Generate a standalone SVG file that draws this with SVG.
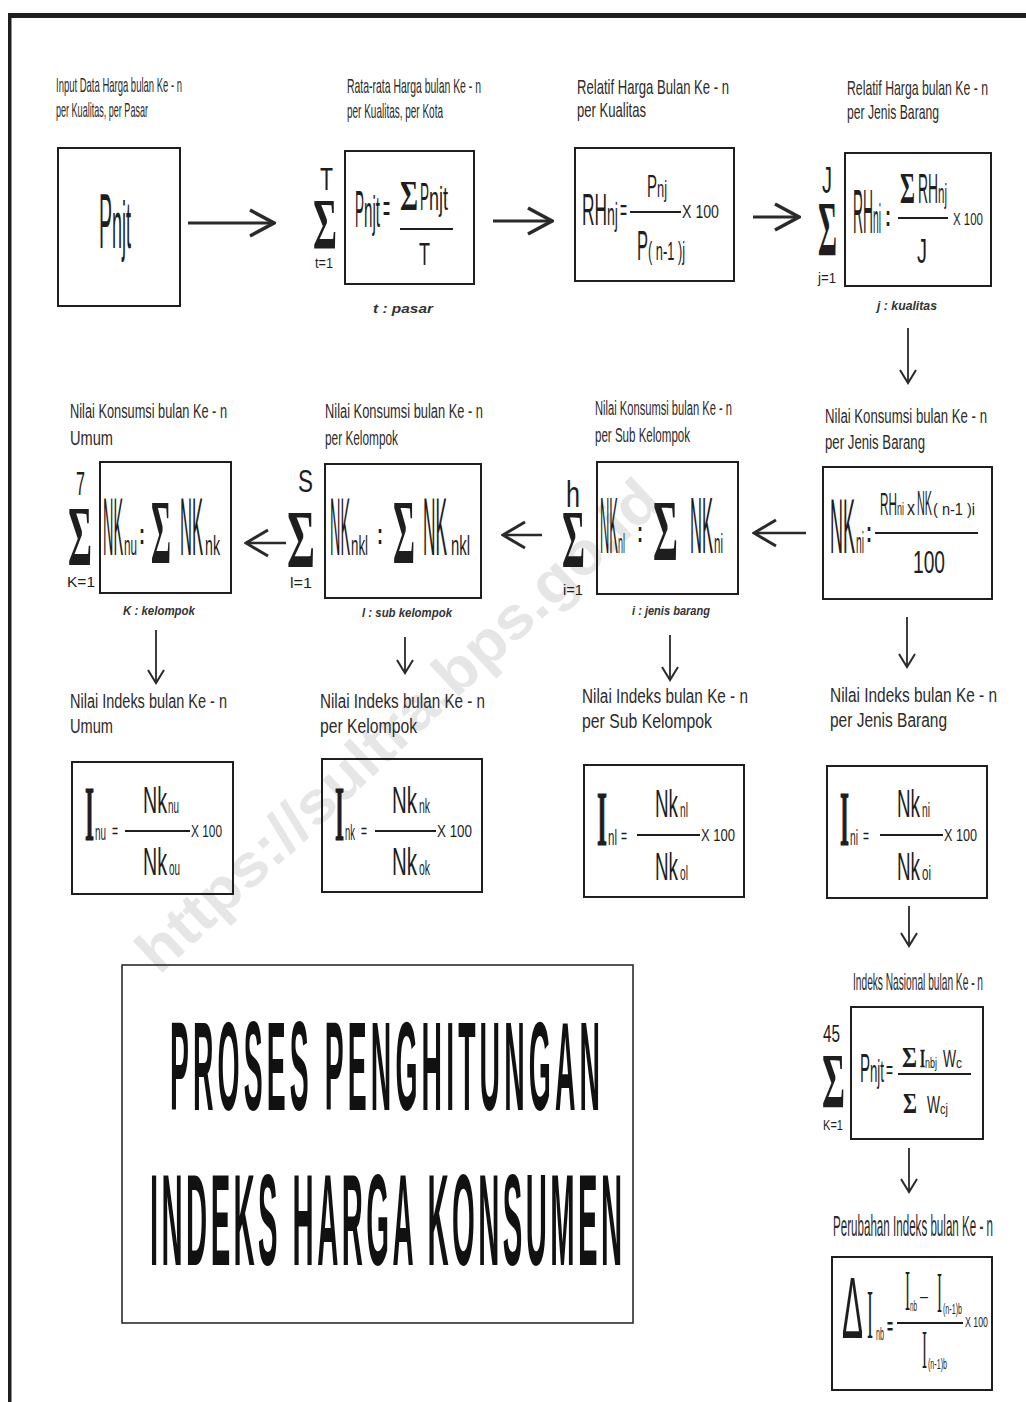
<svg xmlns="http://www.w3.org/2000/svg" width="1026" height="1402" viewBox="0 0 1026 1402">
<style>
.L{font-family:"Liberation Sans",Arial,sans-serif;fill:#2b2b2b}
.F{font-family:"Liberation Sans",Arial,sans-serif;fill:#1e1e1e}
.S{font-family:"Liberation Serif","Times New Roman",serif;font-weight:bold;fill:#1e1e1e}
.SI{font-family:"Liberation Serif","Times New Roman",serif;fill:#1e1e1e}
.SB{font-family:"Liberation Serif","Times New Roman",serif;font-weight:bold;fill:#1e1e1e;stroke:#1e1e1e;stroke-width:1.2}
.C{font-family:"Liberation Sans",Arial,sans-serif;font-style:italic;font-weight:bold;font-size:13px;fill:#333}
.box{fill:none;stroke:#1e1e1e;stroke-width:2}
.fr{stroke:#1e1e1e;stroke-width:2}
.a1{stroke:#2a2a2a;stroke-width:3;fill:none}
.a2{stroke:#2a2a2a;stroke-width:2.5;fill:none}
.a3{stroke:#2a2a2a;stroke-width:1.8;fill:none}
.T{font-family:"Liberation Sans",Arial,sans-serif;font-weight:bold;fill:#111}
</style>
<defs>
<marker id="hb" viewBox="0 0 28 30" markerUnits="userSpaceOnUse" markerWidth="28" markerHeight="30" refX="26" refY="15" orient="auto"><path d="M2,2 L26,15 L2,28" fill="none" stroke="#2a2a2a" stroke-width="3.5"/></marker>
<marker id="hm" viewBox="0 0 26 30" markerUnits="userSpaceOnUse" markerWidth="26" markerHeight="30" refX="24" refY="15" orient="auto"><path d="M2,2 L24,15 L2,28" fill="none" stroke="#2a2a2a" stroke-width="3"/></marker>
<marker id="hs" viewBox="0 0 16 18" markerUnits="userSpaceOnUse" markerWidth="16" markerHeight="18" refX="14" refY="9" orient="auto"><path d="M1,1 L14,9 L1,17" fill="none" stroke="#2a2a2a" stroke-width="2"/></marker>
</defs>
<rect width="1026" height="1402" fill="#fff"/>
<text x="400" y="745" font-family="Liberation Sans, Arial, sans-serif" font-weight="bold" font-size="60" textLength="690" lengthAdjust="spacingAndGlyphs" text-anchor="middle" fill="#e6e6e6" transform="rotate(-43 400 728)">https://sultra.bps.go.id</text>
<g id="frame"><rect x="8" y="13" width="1018" height="5" fill="#1e1e1e"/><rect x="8" y="13" width="3.5" height="1389" fill="#1e1e1e"/></g>

<g id="connectors">
<line class="a1" x1="188" y1="223" x2="274" y2="223" marker-end="url(#hb)"/>
<line class="a1" x1="493" y1="221" x2="552" y2="221" marker-end="url(#hb)"/>
<line class="a1" x1="753" y1="217" x2="799" y2="217" marker-end="url(#hb)"/>
<line class="a3" x1="908" y1="328" x2="908" y2="383" marker-end="url(#hs)"/>
<line class="a2" x1="806" y1="533" x2="754" y2="533" marker-end="url(#hm)"/>
<line class="a2" x1="542" y1="535" x2="503" y2="535" marker-end="url(#hm)"/>
<line class="a2" x1="286" y1="543" x2="246" y2="543" marker-end="url(#hm)"/>
<line class="a3" x1="156" y1="630" x2="156" y2="683" marker-end="url(#hs)"/>
<line class="a3" x1="405" y1="637" x2="405" y2="673" marker-end="url(#hs)"/>
<line class="a3" x1="670" y1="635" x2="670" y2="680" marker-end="url(#hs)"/>
<line class="a3" x1="907" y1="617" x2="907" y2="667" marker-end="url(#hs)"/>
<line class="a3" x1="909" y1="906" x2="909" y2="946" marker-end="url(#hs)"/>
<line class="a3" x1="909" y1="1148" x2="909" y2="1192" marker-end="url(#hs)"/>
</g>

<g id="n1">
<text class="L" x="56" y="92" font-size="21" textLength="126" lengthAdjust="spacingAndGlyphs">Input Data Harga bulan Ke - n</text>
<text class="L" x="56" y="117" font-size="21" textLength="92" lengthAdjust="spacingAndGlyphs">per Kualitas, per Pasar</text>
<rect class="box" x="58" y="148" width="122" height="158"/>
<text class="F" x="99" y="248" font-size="78" textLength="13" lengthAdjust="spacingAndGlyphs">P</text>
<text class="F" x="112" y="248" font-size="66" textLength="19" lengthAdjust="spacingAndGlyphs">njt</text>
</g>

<g id="n2">
<text class="L" x="347" y="93" font-size="21" textLength="134" lengthAdjust="spacingAndGlyphs">Rata-rata Harga bulan Ke - n</text>
<text class="L" x="347" y="118" font-size="21" textLength="96" lengthAdjust="spacingAndGlyphs">per Kualitas, per Kota</text>
<text class="F" x="320" y="190" font-size="32" textLength="13" lengthAdjust="spacingAndGlyphs">T</text>
<text class="S" x="313" y="248" font-size="72" textLength="24" lengthAdjust="spacingAndGlyphs">Σ</text>
<text class="F" x="315" y="268" font-size="15" textLength="18" lengthAdjust="spacingAndGlyphs">t=1</text>
<rect class="box" x="345" y="151" width="129" height="133"/>
<text class="F" x="355" y="227" font-size="52" textLength="9" lengthAdjust="spacingAndGlyphs">P</text>
<text class="F" x="364" y="227" font-size="44" textLength="16" lengthAdjust="spacingAndGlyphs">njt</text>
<text class="F" x="383" y="222" font-size="40" textLength="7" lengthAdjust="spacingAndGlyphs">=</text>
<text class="S" x="400" y="210" font-size="42" textLength="18" lengthAdjust="spacingAndGlyphs">Σ</text>
<text class="F" x="420" y="210" font-size="39" textLength="9" lengthAdjust="spacingAndGlyphs">P</text>
<text class="F" x="429" y="210" font-size="33" textLength="19" lengthAdjust="spacingAndGlyphs">njt</text>
<line class="fr" x1="400" y1="229" x2="453" y2="229"/>
<text class="F" x="419" y="265" font-size="31" textLength="11" lengthAdjust="spacingAndGlyphs">T</text>
<text class="C" x="373" y="313" textLength="60" lengthAdjust="spacingAndGlyphs">t : pasar</text>
</g>

<g id="n3">
<text class="L" x="577" y="94" font-size="21" textLength="152" lengthAdjust="spacingAndGlyphs">Relatif Harga Bulan Ke - n</text>
<text class="L" x="577" y="117" font-size="21" textLength="69" lengthAdjust="spacingAndGlyphs">per Kualitas</text>
<rect class="box" x="575" y="148" width="159" height="133"/>
<text class="F" x="582" y="225" font-size="45" textLength="25" lengthAdjust="spacingAndGlyphs">RH</text>
<text class="F" x="607" y="225" font-size="32" textLength="11" lengthAdjust="spacingAndGlyphs">nj</text>
<text class="F" x="620" y="220" font-size="30" textLength="7" lengthAdjust="spacingAndGlyphs">=</text>
<text class="F" x="647" y="197" font-size="31" textLength="10" lengthAdjust="spacingAndGlyphs">P</text>
<text class="F" x="657" y="197" font-size="24" textLength="10" lengthAdjust="spacingAndGlyphs">nj</text>
<line class="fr" x1="630" y1="212" x2="681" y2="212"/>
<text class="F" x="682" y="218" font-size="18" textLength="37" lengthAdjust="spacingAndGlyphs">X 100</text>
<text class="F" x="637" y="260" font-size="42" textLength="11" lengthAdjust="spacingAndGlyphs">P</text>
<text class="F" x="648" y="260" font-size="26" textLength="37" lengthAdjust="spacingAndGlyphs">( n-1 )j</text>
</g>

<g id="n4">
<text class="L" x="847" y="95" font-size="21" textLength="141" lengthAdjust="spacingAndGlyphs">Relatif Harga bulan Ke - n</text>
<text class="L" x="847" y="119" font-size="21" textLength="92" lengthAdjust="spacingAndGlyphs">per Jenis Barang</text>
<text class="F" x="822" y="193" font-size="36" textLength="10" lengthAdjust="spacingAndGlyphs">J</text>
<text class="S" x="818" y="255" font-size="78" textLength="19" lengthAdjust="spacingAndGlyphs">Σ</text>
<text class="F" x="818" y="283" font-size="15" textLength="18" lengthAdjust="spacingAndGlyphs">j=1</text>
<rect class="box" x="845" y="153" width="146" height="133"/>
<text class="F" x="853" y="233" font-size="63" textLength="20" lengthAdjust="spacingAndGlyphs">RH</text>
<text class="F" x="873" y="233" font-size="40" textLength="8" lengthAdjust="spacingAndGlyphs">ni</text>
<text class="F" x="885" y="226" font-size="30" font-weight="bold" textLength="6" lengthAdjust="spacingAndGlyphs">:</text>
<text class="S" x="900" y="203" font-size="45" textLength="15" lengthAdjust="spacingAndGlyphs">Σ</text>
<text class="F" x="918" y="203" font-size="42" textLength="20" lengthAdjust="spacingAndGlyphs">RH</text>
<text class="F" x="938" y="203" font-size="28" textLength="9" lengthAdjust="spacingAndGlyphs">nj</text>
<line class="fr" x1="898" y1="218" x2="948" y2="218"/>
<text class="F" x="953" y="225" font-size="17" textLength="30" lengthAdjust="spacingAndGlyphs">X 100</text>
<text class="F" x="917" y="263" font-size="35" textLength="10" lengthAdjust="spacingAndGlyphs">J</text>
<text class="C" x="877" y="310" textLength="60" lengthAdjust="spacingAndGlyphs">j : kualitas</text>
</g>

<g id="n5">
<text class="L" x="825" y="423" font-size="20" textLength="162" lengthAdjust="spacingAndGlyphs">Nilai Konsumsi bulan Ke - n</text>
<text class="L" x="825" y="449" font-size="20" textLength="100" lengthAdjust="spacingAndGlyphs">per Jenis Barang</text>
<rect class="box" x="823" y="467" width="169" height="132"/>
<text class="F" x="830" y="553" font-size="78" textLength="25" lengthAdjust="spacingAndGlyphs">NK</text>
<text class="F" x="856" y="553" font-size="30" textLength="8" lengthAdjust="spacingAndGlyphs">ni</text>
<text class="F" x="866" y="542" font-size="30" font-weight="bold" textLength="6" lengthAdjust="spacingAndGlyphs">:</text>
<text class="F" x="880" y="515" font-size="31" textLength="17" lengthAdjust="spacingAndGlyphs">RH</text>
<text class="F" x="897" y="515" font-size="18" textLength="7" lengthAdjust="spacingAndGlyphs">ni</text>
<text class="F" x="907" y="515" font-size="20" textLength="8" lengthAdjust="spacingAndGlyphs">x</text>
<text class="F" x="917" y="515" font-size="35" textLength="15" lengthAdjust="spacingAndGlyphs">NK</text>
<text class="F" x="933" y="515" font-size="16" textLength="42" lengthAdjust="spacingAndGlyphs">( n-1 )i</text>
<line class="fr" x1="875" y1="533" x2="978" y2="533"/>
<text class="F" x="913" y="573" font-size="32" textLength="32" lengthAdjust="spacingAndGlyphs">100</text>
</g>

<g id="n6">
<text class="L" x="595" y="415" font-size="20" textLength="137" lengthAdjust="spacingAndGlyphs">Nilai Konsumsi bulan Ke - n</text>
<text class="L" x="595" y="442" font-size="20" textLength="95" lengthAdjust="spacingAndGlyphs">per Sub Kelompok</text>
<text class="F" x="566" y="507" font-size="37" textLength="14" lengthAdjust="spacingAndGlyphs">h</text>
<text class="S" x="562" y="567" font-size="82" textLength="23" lengthAdjust="spacingAndGlyphs">Σ</text>
<text class="F" x="563" y="595" font-size="15" textLength="20" lengthAdjust="spacingAndGlyphs">i=1</text>
<rect class="box" x="597" y="462" width="141" height="132"/>
<text class="F" x="600" y="553" font-size="80" textLength="18" lengthAdjust="spacingAndGlyphs">NK</text>
<text class="F" x="618" y="553" font-size="28" textLength="7" lengthAdjust="spacingAndGlyphs">nl</text>
<text class="F" x="637" y="542" font-size="30" font-weight="bold" textLength="6" lengthAdjust="spacingAndGlyphs">:</text>
<text class="S" x="653" y="560" font-size="86" textLength="25" lengthAdjust="spacingAndGlyphs">Σ</text>
<text class="F" x="690" y="553" font-size="80" textLength="23" lengthAdjust="spacingAndGlyphs">NK</text>
<text class="F" x="714" y="553" font-size="28" textLength="9" lengthAdjust="spacingAndGlyphs">ni</text>
<text class="C" x="632" y="615" textLength="78" lengthAdjust="spacingAndGlyphs">i : jenis barang</text>
</g>

<g id="n7">
<text class="L" x="325" y="418" font-size="20" textLength="158" lengthAdjust="spacingAndGlyphs">Nilai Konsumsi bulan Ke - n</text>
<text class="L" x="325" y="445" font-size="20" textLength="73" lengthAdjust="spacingAndGlyphs">per Kelompok</text>
<text class="F" x="298" y="492" font-size="31" textLength="15" lengthAdjust="spacingAndGlyphs">S</text>
<text class="S" x="287" y="567" font-size="82" textLength="28" lengthAdjust="spacingAndGlyphs">Σ</text>
<text class="F" x="290" y="588" font-size="15" textLength="22" lengthAdjust="spacingAndGlyphs">l=1</text>
<rect class="box" x="325" y="464" width="156" height="134"/>
<text class="F" x="330" y="555" font-size="82" textLength="20" lengthAdjust="spacingAndGlyphs">NK</text>
<text class="F" x="351" y="555" font-size="28" textLength="17" lengthAdjust="spacingAndGlyphs">nkl</text>
<text class="F" x="377" y="544" font-size="30" font-weight="bold" textLength="6" lengthAdjust="spacingAndGlyphs">:</text>
<text class="S" x="393" y="563" font-size="90" textLength="22" lengthAdjust="spacingAndGlyphs">Σ</text>
<text class="F" x="423" y="555" font-size="82" textLength="24" lengthAdjust="spacingAndGlyphs">NK</text>
<text class="F" x="451" y="555" font-size="28" textLength="19" lengthAdjust="spacingAndGlyphs">nkl</text>
<text class="C" x="362" y="617" textLength="90" lengthAdjust="spacingAndGlyphs">l : sub kelompok</text>
</g>

<g id="n8">
<text class="L" x="70" y="418" font-size="20" textLength="157" lengthAdjust="spacingAndGlyphs">Nilai Konsumsi bulan Ke - n</text>
<text class="L" x="70" y="445" font-size="20" textLength="43" lengthAdjust="spacingAndGlyphs">Umum</text>
<text class="F" x="76" y="495" font-size="34" textLength="9" lengthAdjust="spacingAndGlyphs">7</text>
<text class="S" x="68" y="565" font-size="85" textLength="24" lengthAdjust="spacingAndGlyphs">Σ</text>
<text class="F" x="67" y="587" font-size="15" textLength="28" lengthAdjust="spacingAndGlyphs">K=1</text>
<rect class="box" x="100" y="462" width="131" height="131"/>
<text class="F" x="103" y="555" font-size="82" textLength="20" lengthAdjust="spacingAndGlyphs">NK</text>
<text class="F" x="124" y="555" font-size="28" textLength="13" lengthAdjust="spacingAndGlyphs">nu</text>
<text class="F" x="139" y="544" font-size="30" font-weight="bold" textLength="6" lengthAdjust="spacingAndGlyphs">:</text>
<text class="S" x="151" y="563" font-size="90" textLength="20" lengthAdjust="spacingAndGlyphs">Σ</text>
<text class="F" x="180" y="555" font-size="82" textLength="23" lengthAdjust="spacingAndGlyphs">NK</text>
<text class="F" x="205" y="555" font-size="28" textLength="15" lengthAdjust="spacingAndGlyphs">nk</text>
<text class="C" x="123" y="615" textLength="72" lengthAdjust="spacingAndGlyphs">K : kelompok</text>
</g>

<g id="n9">
<text class="L" x="70" y="708" font-size="20" textLength="157" lengthAdjust="spacingAndGlyphs">Nilai Indeks bulan Ke - n</text>
<text class="L" x="70" y="733" font-size="20" textLength="43" lengthAdjust="spacingAndGlyphs">Umum</text>
<rect class="box" x="72" y="762" width="161" height="132"/>
<text class="SB" x="85" y="840" font-size="78" textLength="9" lengthAdjust="spacingAndGlyphs">I</text>
<text class="F" x="95" y="840" font-size="22" textLength="11" lengthAdjust="spacingAndGlyphs">nu</text>
<text class="F" x="112" y="838" font-size="20" textLength="6" lengthAdjust="spacingAndGlyphs">=</text>
<text class="F" x="143" y="813" font-size="36" textLength="24" lengthAdjust="spacingAndGlyphs">Nk</text>
<text class="F" x="168" y="813" font-size="20" textLength="11" lengthAdjust="spacingAndGlyphs">nu</text>
<line class="fr" x1="125" y1="831" x2="190" y2="831"/>
<text class="F" x="191" y="837" font-size="16" textLength="31" lengthAdjust="spacingAndGlyphs">X 100</text>
<text class="F" x="143" y="875" font-size="38" textLength="24" lengthAdjust="spacingAndGlyphs">Nk</text>
<text class="F" x="169" y="875" font-size="20" textLength="11" lengthAdjust="spacingAndGlyphs">ou</text>
</g>

<g id="n10">
<text class="L" x="320" y="708" font-size="20" textLength="165" lengthAdjust="spacingAndGlyphs">Nilai Indeks bulan Ke - n</text>
<text class="L" x="320" y="733" font-size="20" textLength="97" lengthAdjust="spacingAndGlyphs">per Kelompok</text>
<rect class="box" x="322" y="759" width="160" height="133"/>
<text class="SB" x="335" y="840" font-size="78" textLength="9" lengthAdjust="spacingAndGlyphs">I</text>
<text class="F" x="345" y="840" font-size="22" textLength="10" lengthAdjust="spacingAndGlyphs">nk</text>
<text class="F" x="361" y="838" font-size="20" textLength="6" lengthAdjust="spacingAndGlyphs">=</text>
<text class="F" x="392" y="813" font-size="36" textLength="25" lengthAdjust="spacingAndGlyphs">Nk</text>
<text class="F" x="419" y="813" font-size="20" textLength="11" lengthAdjust="spacingAndGlyphs">nk</text>
<line class="fr" x1="375" y1="831" x2="436" y2="831"/>
<text class="F" x="437" y="837" font-size="16" textLength="35" lengthAdjust="spacingAndGlyphs">X 100</text>
<text class="F" x="392" y="875" font-size="38" textLength="25" lengthAdjust="spacingAndGlyphs">Nk</text>
<text class="F" x="419" y="875" font-size="20" textLength="11" lengthAdjust="spacingAndGlyphs">ok</text>
</g>

<g id="n11">
<text class="L" x="582" y="703" font-size="20" textLength="166" lengthAdjust="spacingAndGlyphs">Nilai Indeks bulan Ke - n</text>
<text class="L" x="582" y="728" font-size="20" textLength="130" lengthAdjust="spacingAndGlyphs">per Sub Kelompok</text>
<rect class="box" x="584" y="765" width="160" height="132"/>
<text class="SB" x="597" y="845" font-size="78" textLength="10" lengthAdjust="spacingAndGlyphs">I</text>
<text class="F" x="608" y="845" font-size="22" textLength="9" lengthAdjust="spacingAndGlyphs">nl</text>
<text class="F" x="621" y="843" font-size="20" textLength="6" lengthAdjust="spacingAndGlyphs">=</text>
<text class="F" x="655" y="817" font-size="38" textLength="23" lengthAdjust="spacingAndGlyphs">Nk</text>
<text class="F" x="680" y="817" font-size="20" textLength="8" lengthAdjust="spacingAndGlyphs">nl</text>
<line class="fr" x1="637" y1="835" x2="700" y2="835"/>
<text class="F" x="701" y="841" font-size="16" textLength="34" lengthAdjust="spacingAndGlyphs">X 100</text>
<text class="F" x="655" y="880" font-size="38" textLength="23" lengthAdjust="spacingAndGlyphs">Nk</text>
<text class="F" x="680" y="880" font-size="20" textLength="8" lengthAdjust="spacingAndGlyphs">ol</text>
</g>

<g id="n12">
<text class="L" x="830" y="702" font-size="20" textLength="167" lengthAdjust="spacingAndGlyphs">Nilai Indeks bulan Ke - n</text>
<text class="L" x="830" y="727" font-size="20" textLength="117" lengthAdjust="spacingAndGlyphs">per Jenis Barang</text>
<rect class="box" x="827" y="766" width="160" height="132"/>
<text class="SB" x="840" y="845" font-size="78" textLength="9" lengthAdjust="spacingAndGlyphs">I</text>
<text class="F" x="850" y="845" font-size="22" textLength="8" lengthAdjust="spacingAndGlyphs">ni</text>
<text class="F" x="863" y="843" font-size="20" textLength="6" lengthAdjust="spacingAndGlyphs">=</text>
<text class="F" x="897" y="817" font-size="38" textLength="23" lengthAdjust="spacingAndGlyphs">Nk</text>
<text class="F" x="922" y="817" font-size="20" textLength="8" lengthAdjust="spacingAndGlyphs">ni</text>
<line class="fr" x1="880" y1="835" x2="943" y2="835"/>
<text class="F" x="944" y="841" font-size="16" textLength="33" lengthAdjust="spacingAndGlyphs">X 100</text>
<text class="F" x="897" y="880" font-size="38" textLength="23" lengthAdjust="spacingAndGlyphs">Nk</text>
<text class="F" x="922" y="880" font-size="20" textLength="9" lengthAdjust="spacingAndGlyphs">oi</text>
</g>

<g id="n13">
<text class="L" x="853" y="990" font-size="24" textLength="130" lengthAdjust="spacingAndGlyphs">Indeks Nasional bulan Ke - n</text>
<text class="F" x="823" y="1042" font-size="24" textLength="17" lengthAdjust="spacingAndGlyphs">45</text>
<text class="S" x="822" y="1107" font-size="78" textLength="23" lengthAdjust="spacingAndGlyphs">Σ</text>
<text class="F" x="823" y="1130" font-size="15" textLength="20" lengthAdjust="spacingAndGlyphs">K=1</text>
<rect class="box" x="851" y="1007" width="132" height="132"/>
<text class="F" x="860" y="1082" font-size="40" textLength="10" lengthAdjust="spacingAndGlyphs">P</text>
<text class="F" x="870" y="1082" font-size="32" textLength="14" lengthAdjust="spacingAndGlyphs">njt</text>
<text class="F" x="886" y="1078" font-size="26" textLength="7" lengthAdjust="spacingAndGlyphs">=</text>
<text class="S" x="902" y="1067" font-size="30" textLength="15" lengthAdjust="spacingAndGlyphs">Σ</text>
<text class="SB" x="920" y="1067" font-size="26" textLength="5" lengthAdjust="spacingAndGlyphs" style="stroke-width:0.5">I</text>
<text class="F" x="925" y="1068" font-size="14" textLength="12" lengthAdjust="spacingAndGlyphs">nbj</text>
<text class="F" x="943" y="1067" font-size="24" textLength="13" lengthAdjust="spacingAndGlyphs">W</text>
<text class="F" x="956" y="1068" font-size="14" textLength="6" lengthAdjust="spacingAndGlyphs">c</text>
<line class="fr" x1="898" y1="1074" x2="971" y2="1074"/>
<text class="S" x="903" y="1113" font-size="30" textLength="14" lengthAdjust="spacingAndGlyphs">Σ</text>
<text class="F" x="927" y="1113" font-size="24" textLength="13" lengthAdjust="spacingAndGlyphs">W</text>
<text class="F" x="940" y="1114" font-size="14" textLength="8" lengthAdjust="spacingAndGlyphs">cj</text>
</g>

<g id="n14">
<text class="L" x="833" y="1236" font-size="30" textLength="160" lengthAdjust="spacingAndGlyphs">Perubahan Indeks bulan Ke - n</text>
<rect class="box" x="832" y="1257" width="160" height="133"/>
<text class="F" x="842" y="1338" font-size="88" textLength="21" lengthAdjust="spacingAndGlyphs">Δ</text>
<text class="SI" x="867" y="1338" font-size="70" textLength="6" lengthAdjust="spacingAndGlyphs">I</text>
<text class="F" x="876" y="1340" font-size="18" textLength="8" lengthAdjust="spacingAndGlyphs">nb</text>
<text class="F" x="887" y="1334" font-size="22" font-weight="bold" textLength="6" lengthAdjust="spacingAndGlyphs">=</text>
<text class="SI" x="905" y="1310" font-size="57" textLength="5" lengthAdjust="spacingAndGlyphs">I</text>
<text class="F" x="910" y="1311" font-size="14" textLength="7" lengthAdjust="spacingAndGlyphs">nb</text>
<text class="F" x="920" y="1302" font-size="18" textLength="8" lengthAdjust="spacingAndGlyphs">–</text>
<text class="SI" x="937" y="1312" font-size="56" textLength="5" lengthAdjust="spacingAndGlyphs">I</text>
<text class="F" x="943" y="1314" font-size="14" textLength="19" lengthAdjust="spacingAndGlyphs">(n-1)b</text>
<line class="fr" x1="897" y1="1323" x2="963" y2="1323"/>
<text class="F" x="965" y="1327" font-size="14" textLength="23" lengthAdjust="spacingAndGlyphs">X 100</text>
<text class="SI" x="922" y="1368" font-size="54" textLength="5" lengthAdjust="spacingAndGlyphs">I</text>
<text class="F" x="928" y="1369" font-size="14" textLength="19" lengthAdjust="spacingAndGlyphs">(n-1)b</text>
</g>

<g id="title">
<rect x="122" y="965" width="511" height="358" fill="none" stroke="#1e1e1e" stroke-width="1.5"/>
<text class="T" transform="translate(170 1110) scale(0.225 1)" x="0" y="0" font-size="126" textLength="1911" lengthAdjust="spacing">PROSES PENGHITUNGAN</text>
<text class="T" transform="translate(150 1265) scale(0.225 1)" x="0" y="0" font-size="130" textLength="2098" lengthAdjust="spacing">INDEKS HARGA KONSUMEN</text>
</g>
</svg>
